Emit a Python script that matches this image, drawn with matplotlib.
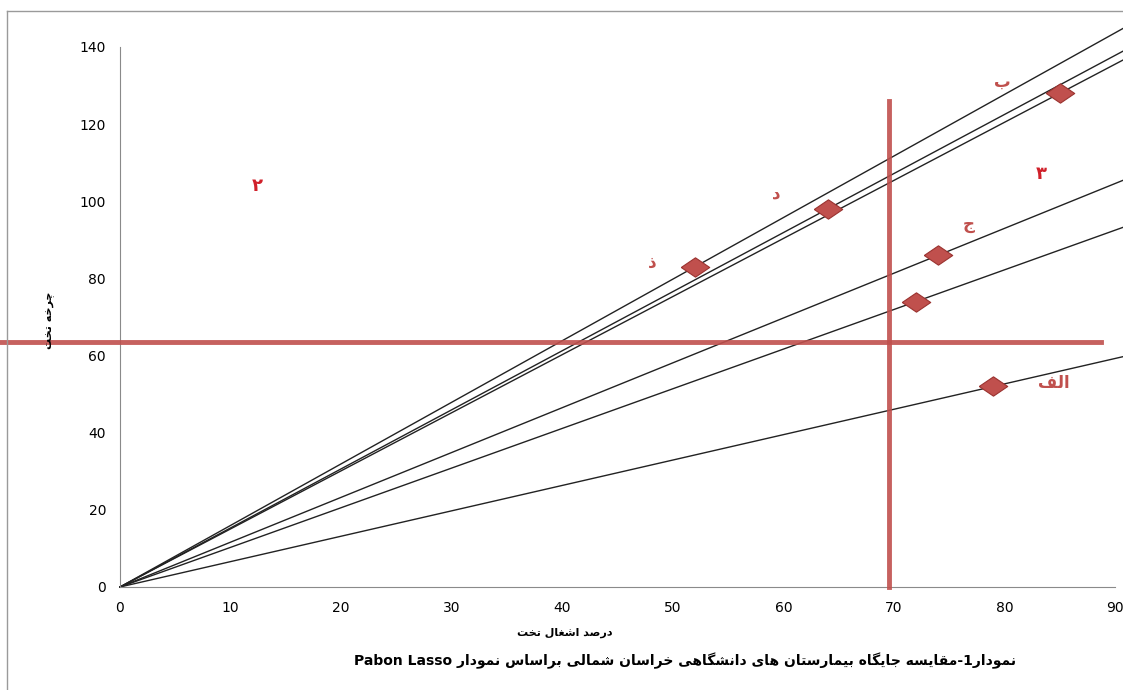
import re
import numpy as np
import matplotlib
matplotlib.use('Agg')
import matplotlib.pyplot as plt
from matplotlib.lines import Line2D

# --- minimal Persian shaping (no arabic_reshaper available) ---
FORMS = {
    'ا': (0xFE8D, 0xFE8E, None, None),
    'ب': (0xFE8F, 0xFE90, 0xFE91, 0xFE92),
    'ت': (0xFE95, 0xFE96, 0xFE97, 0xFE98),
    'ج': (0xFE9D, 0xFE9E, 0xFE9F, 0xFEA0),
    'خ': (0xFEA5, 0xFEA6, 0xFEA7, 0xFEA8),
    'د': (0xFEA9, 0xFEAA, None, None),
    'ذ': (0xFEAB, 0xFEAC, None, None),
    'ر': (0xFEAD, 0xFEAE, None, None),
    'س': (0xFEB1, 0xFEB2, 0xFEB3, 0xFEB4),
    'ش': (0xFEB5, 0xFEB6, 0xFEB7, 0xFEB8),
    'ص': (0xFEB9, 0xFEBA, 0xFEBB, 0xFEBC),
    'غ': (0xFECD, 0xFECE, 0xFECF, 0xFED0),
    'ف': (0xFED1, 0xFED2, 0xFED3, 0xFED4),
    'ق': (0xFED5, 0xFED6, 0xFED7, 0xFED8),
    'ل': (0xFEDD, 0xFEDE, 0xFEDF, 0xFEE0),
    'م': (0xFEE1, 0xFEE2, 0xFEE3, 0xFEE4),
    'ن': (0xFEE5, 0xFEE6, 0xFEE7, 0xFEE8),
    'ه': (0xFEE9, 0xFEEA, 0xFEEB, 0xFEEC),
    'و': (0xFEED, 0xFEEE, None, None),
    'ی': (0xFBFC, 0xFBFD, 0xFBFE, 0xFBFF),
    'چ': (0xFB7A, 0xFB7B, 0xFB7C, 0xFB7D),
    'گ': (0xFB92, 0xFB93, 0xFB94, 0xFB95),
}


def fa(s):
    out = []
    for i, c in enumerate(s):
        if c not in FORMS:
            out.append(c)
            continue
        prev = s[i - 1] if i > 0 else ''
        nxt = s[i + 1] if i + 1 < len(s) else ''
        jp = prev in FORMS and FORMS[prev][2] is not None
        jn = FORMS[c][2] is not None and nxt in FORMS
        f = FORMS[c]
        if jp and jn:
            g = f[3]
        elif jp:
            g = f[1]
        elif jn:
            g = f[2]
        else:
            g = f[0]
        out.append(chr(g))
    vis = ''.join(out)[::-1]
    return re.sub(r'[A-Za-z0-9](?:[A-Za-z0-9 ]*[A-Za-z0-9])?',
                  lambda m: m.group(0)[::-1], vis)


# --- data ---
hospitals = ['الف', 'ب', 'ج', 'د', 'ذ', '']
occupancy = [79, 85, 74, 64, 52, 72]       # درصد اشغال تخت
turnover = [52, 128, 86, 98, 83, 74]       # چرخه تخت
label_pos = [(84.5, 53), (79.8, 131), (76.8, 94), (59.4, 102), (48.1, 84), None]
mean_occupancy = 69.6
mean_turnover = 63.5
zones = ['۲', '۳']
zone_pos = [(12.4, 104), (83.3, 107)]

red = '#C0504D'
diamond = [(-1, 0), (0, 0.68), (1, 0), (0, -0.68), (-1, 0)]

fig = plt.figure(figsize=(11.23, 6.9), dpi=100)
ax = fig.add_axes([120 / 1123, 103 / 690, 995 / 1123, 540 / 690])

# outer frame
fig.add_artist(Line2D([7 / 1123, 1.0], [1 - 11 / 690, 1 - 11 / 690],
                      transform=fig.transFigure, color='#9a9a9a', lw=1))
fig.add_artist(Line2D([7 / 1123, 7 / 1123], [0.0, 1 - 11 / 690],
                      transform=fig.transFigure, color='#9a9a9a', lw=1))

# iso-lines through origin
for x, y in zip(occupancy, turnover):
    xs = np.array([0, 91])
    ax.plot(xs, xs * y / x, color='#222222', lw=1.0, clip_on=False, zorder=2)

# mean lines
ax.plot([-10.9, 88.7], [mean_turnover, mean_turnover], color=red, lw=3.5,
        alpha=0.9, clip_on=False, zorder=3)
ax.plot([mean_occupancy, mean_occupancy], [0, 126], color=red, lw=3.5,
        alpha=0.9, clip_on=False, zorder=3)

ax.scatter(occupancy, turnover, marker=diamond, s=420, color=red,
           edgecolor='#9b3330', linewidth=0.8, zorder=5)

for name, pos in zip(hospitals, label_pos):
    if pos is None:
        continue
    ax.text(pos[0], pos[1], fa(name), color=red, fontsize=12,
            fontweight='bold', ha='center', va='center', zorder=6)
for z, pos in zip(zones, zone_pos):
    ax.text(pos[0], pos[1], z, color='#d0202a', fontsize=13,
            fontweight='bold', ha='center', va='center')

ax.set_xlim(0, 90)
ax.set_ylim(0, 140)
ax.set_xticks(np.arange(0, 91, 10))
ax.set_yticks(np.arange(0, 141, 20))
ax.tick_params(length=0, labelsize=10, pad=10)
for sp in ['top', 'right']:
    ax.spines[sp].set_visible(False)
for sp in ['left', 'bottom']:
    ax.spines[sp].set_color('#8a8a8a')

fig.text(565 / 1123, 1 - 633 / 690, fa('درصد اشغال تخت'), fontsize=8,
         fontweight='bold', ha='center', va='center')
fig.text(50 / 1123, 1 - 320 / 690, fa('چرخه تخت'), fontsize=8,
         fontweight='bold', ha='center', va='center', rotation=90)
fig.text(685 / 1123, 1 - 661 / 690,
         fa('نمودار1-مقایسه جایگاه بیمارستان های دانشگاهی خراسان شمالی براساس نمودار Pabon Lasso'),
         fontsize=10, fontweight='bold', ha='center', va='center')

fig.savefig('out.png', dpi=100)
